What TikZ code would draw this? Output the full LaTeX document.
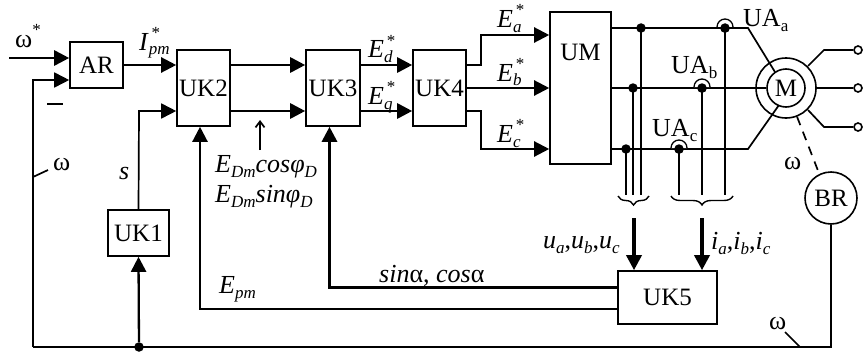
\documentclass[tikz,border=0pt]{standalone}
\usepackage{fontspec}
\setmainfont{Liberation Serif}
\usetikzlibrary{arrows.meta,decorations.pathreplacing}
\newcommand\lowidx[1]{\raisebox{-5pt}{\fontsize{17}{17}\selectfont #1}}
\newcommand\lowit[1]{\lowidx{\itshape #1}}
\newcommand\starred[1]{\rlap{\raisebox{12pt}{\fontsize{17}{17}\selectfont\,*}}\lowit{#1}}
\tikzset{
  box/.style={draw,line width=1.6pt,inner sep=0pt,font=\fontsize{25}{27}\selectfont},
  lab/.style={inner sep=0pt,anchor=base west,font=\fontsize{26}{28}\selectfont},
  wire/.style={line width=1.7pt},
  bus/.style={line width=2.8pt},
  arr/.style={-{Triangle[length=15pt,width=15pt]}},
  dotn/.style={circle,fill=black,inner sep=0pt,minimum size=9.5pt},
  ring/.style={circle,draw,line width=1.6pt,inner sep=0pt},
  term/.style={circle,draw,fill=white,line width=1.6pt,inner sep=0pt,minimum size=8pt},
  hop/.style={line width=1.3pt},
  lead/.style={line width=2.3pt},
  brc/.style={line width=1.4pt,decorate,decoration={brace,amplitude=9pt}},
}
\begin{document}
\begin{tikzpicture}[x=1pt,y=-1pt]
\useasboundingbox (0,0) rectangle (866,353);
% boxes
\node[box,minimum width=53pt,minimum height=46pt] (AR) at (96.5,65) {AR};
\node[box,minimum width=53pt,minimum height=76pt] (UK2) at (203.5,88) {UK2};
\node[box,minimum width=54pt,minimum height=76pt] (UK3) at (333,88) {UK3};
\node[box,minimum width=53pt,minimum height=76pt] (UK4) at (439.5,88) {UK4};
\node[box,minimum width=61pt,minimum height=152pt,text depth=72pt,text height=16pt] (UM) at (580.5,88) {UM};
\node[box,minimum width=61pt,minimum height=46pt] (UK1) at (138.5,233) {UK1};
\node[box,minimum width=99pt,minimum height=53pt] (UK5) at (667.5,297.5) {UK5};
\node[ring,minimum size=60pt] (Mo) at (786,88) {};
\node[ring,minimum size=38pt,font=\fontsize{25}{27}\selectfont] (Mi) at (786,88) {M};
\node[ring,minimum size=52pt,font=\fontsize{25}{27}\selectfont] (BR) at (831,198) {BR};
% free ends and routing points
\coordinate (in1) at (9,58);
\coordinate (row1) at (0,65);
\coordinate (row2) at (0,111);
\coordinate (fb) at (33,347);
\coordinate (fbin) at (33,80);
\node[dotn] (jn) at (139,347) {};
\coordinate (sIn) at (139,111);
\coordinate (ya) at (0,28);
\coordinate (yb) at (0,88);
\coordinate (yc) at (0,149);
\coordinate (bot) at (0,195);
% input side
\draw[bus,arr] (in1) -- (AR.west |- in1);
\draw[wire,arr] (fb) -- (fbin) -- (AR.west |- fbin);
\draw[wire] (fb) -- (BR.south |- fb) -- (BR.south);
\draw[lead,arr] (jn) -- (UK1.south);
\draw[wire,arr] (UK1.north) -- (sIn) -- (UK2.west |- sIn);
\draw[lead,arr] (AR.east |- row1) -- (UK2.west |- row1);
\draw[bus,arr] (UK2.east |- row1) -- (UK3.west |- row1);
\draw[bus,arr] (UK2.east |- row2) -- (UK3.west |- row2);
\draw[bus,arr] (UK3.east |- row1) -- (UK4.west |- row1);
\draw[bus,arr] (UK3.east |- row2) -- (UK4.west |- row2);
% UK4 to UM
\coordinate (k1) at (481,65);
\coordinate (k2) at (481,35);
\coordinate (k3) at (481,111);
\coordinate (k4) at (481,149);
\draw[lead,arr] (UK4.east |- k1) -- (k1) -- (k2) -- (UM.west |- k2);
\draw[lead,arr] (UK4.east) -- (UM.west |- UK4.east);
\draw[lead,arr] (UK4.east |- k3) -- (k3) -- (k4) -- (UM.west |- k4);
% phase lines
\coordinate (da) at (748,28);
\coordinate (dc) at (748,149);
\coordinate (ma) at (775,72);
\coordinate (mc) at (779,105);
\draw[wire] (UM.east |- ya) -- (da) -- (ma);
\draw[wire] (UM.east |- yb) -- (Mi.west);
\draw[wire] (UM.east |- yc) -- (dc) -- (mc);
% tap nodes
\node[dotn] (va) at (641,28) {};
\node[dotn] (vb) at (633,88) {};
\node[dotn] (vc) at (626,149) {};
\node[dotn] (ia) at (725,28) {};
\node[dotn] (ib) at (702,88) {};
\node[dotn] (ic) at (679,149) {};
\foreach \n in {va,vb,vc,ia,ib,ic}{\draw[lead] (\n.center) -- (\n.center |- bot);}
% current sensor hoops
\fill[white] (717,27) arc[start angle=180,end angle=360,radius=8] -- cycle;
\fill[white] (694,87) arc[start angle=180,end angle=360,radius=8] -- cycle;
\fill[white] (671,148) arc[start angle=180,end angle=360,radius=8] -- cycle;
\node[dotn] at (ia) {};\node[dotn] at (ib) {};\node[dotn] at (ic) {};
\draw[hop] (717,27) arc[start angle=180,end angle=360,radius=8];
\draw[hop] (694,87) arc[start angle=180,end angle=360,radius=8];
\draw[hop] (671,148) arc[start angle=180,end angle=360,radius=8];
% braces
\draw[brc] (649,196) -- (618,196);
\draw[brc] (733,196) -- (671,196);
\coordinate (bu) at (634,218);
\coordinate (bi) at (702,218);
\draw[line width=3.4pt,arr] (bu) -- (UK5.north -| bu);
\draw[line width=3.4pt,arr] (bi) -- (UK5.north -| bi);
% feedback from UK5
\coordinate (f1) at (329.5,287);
\coordinate (f2) at (200,309);
\draw[line width=3pt,arr] (UK5.west |- f1) -- (f1) -- (UK3.south -| f1);
\draw[lead,arr] (UK5.west |- f2) -- (f2) -- (UK2.south -| f2);
% motor terminals
\node[term] (t1) at (858,50) {};
\node[term] (t2) at (858,88) {};
\node[term] (t3) at (858,127) {};
\coordinate (t1k) at (824,50);
\coordinate (t3k) at (824,127);
\coordinate (m1) at (808,66);
\coordinate (m3) at (808,110);
\draw[wire] (m1) -- (t1k) -- (t1);
\draw[wire] (Mo.east) -- (t2);
\draw[wire] (m3) -- (t3k) -- (t3);
\draw[wire,dash pattern=on 9pt off 7pt] (Mo.-69) -- (BR.116);
% ticks
\coordinate (s1a) at (33,177);\coordinate (s1b) at (48,170);
\coordinate (s2a) at (800,347);\coordinate (s2b) at (785,332);
\coordinate (up1) at (260,150);\coordinate (up2) at (260,120);
\coordinate (mi1) at (47,104);\coordinate (mi2) at (63,104);
\draw[wire] (s1a) -- (s1b);
\draw[wire] (s2a) -- (s2b);
\draw[wire,-{Straight Barb[length=6pt,width=9pt]}] (up1) -- (up2);
\draw[wire] (mi1) -- (mi2);
% labels
\node[lab] (l1) at (15,48) {ω\rlap{\raisebox{12pt}{\fontsize{17}{17}\selectfont *}}};
\node[lab] (l2) at (139,50) {\textit{I}\starred{pm}};
\node[lab] (l3) at (119,179) {\textit{s}};
\node[lab] (l4) at (53,170) {ω};
\node[lab] (l5) at (497,28) {\textit{E}\starred{a}};
\node[lab] (l6) at (497,81) {\textit{E}\starred{b}};
\node[lab] (l7) at (497,142) {\textit{E}\starred{c}};
\node[lab] (l8) at (368,58) {\textit{E}\starred{d}};
\node[lab] (l9) at (368,104) {\textit{E}\starred{q}};
\node[lab] (l10) at (743,27) {UA\lowidx{a}};
\node[lab] (l11) at (671,74) {UA\lowidx{b}};
\node[lab] (l12) at (652,136) {UA\lowidx{c}};
\node[lab] (l13) at (215,172) {\textit{E}\lowit{Dm}\textit{cosφ}\lowit{D}};
\node[lab] (l14) at (215,202) {\textit{E}\lowit{Dm}\textit{sinφ}\lowit{D}};
\node[lab] (l15) at (219,293) {\textit{E}\lowit{pm}};
\node[lab] (l16) at (379,282) {\textit{sin}α, \textit{cos}α};
\node[lab] (l17) at (543,248) {\textit{u}\lowit{a},\textit{u}\lowit{b},\textit{u}\lowit{c}};
\node[lab] (l18) at (711,249) {\textit{i}\lowit{a},\textit{i}\lowit{b},\textit{i}\lowit{c}};
\node[lab] (l19) at (769,329) {ω};
\node[lab] (l20) at (784,169) {ω};
\end{tikzpicture}
\end{document}
